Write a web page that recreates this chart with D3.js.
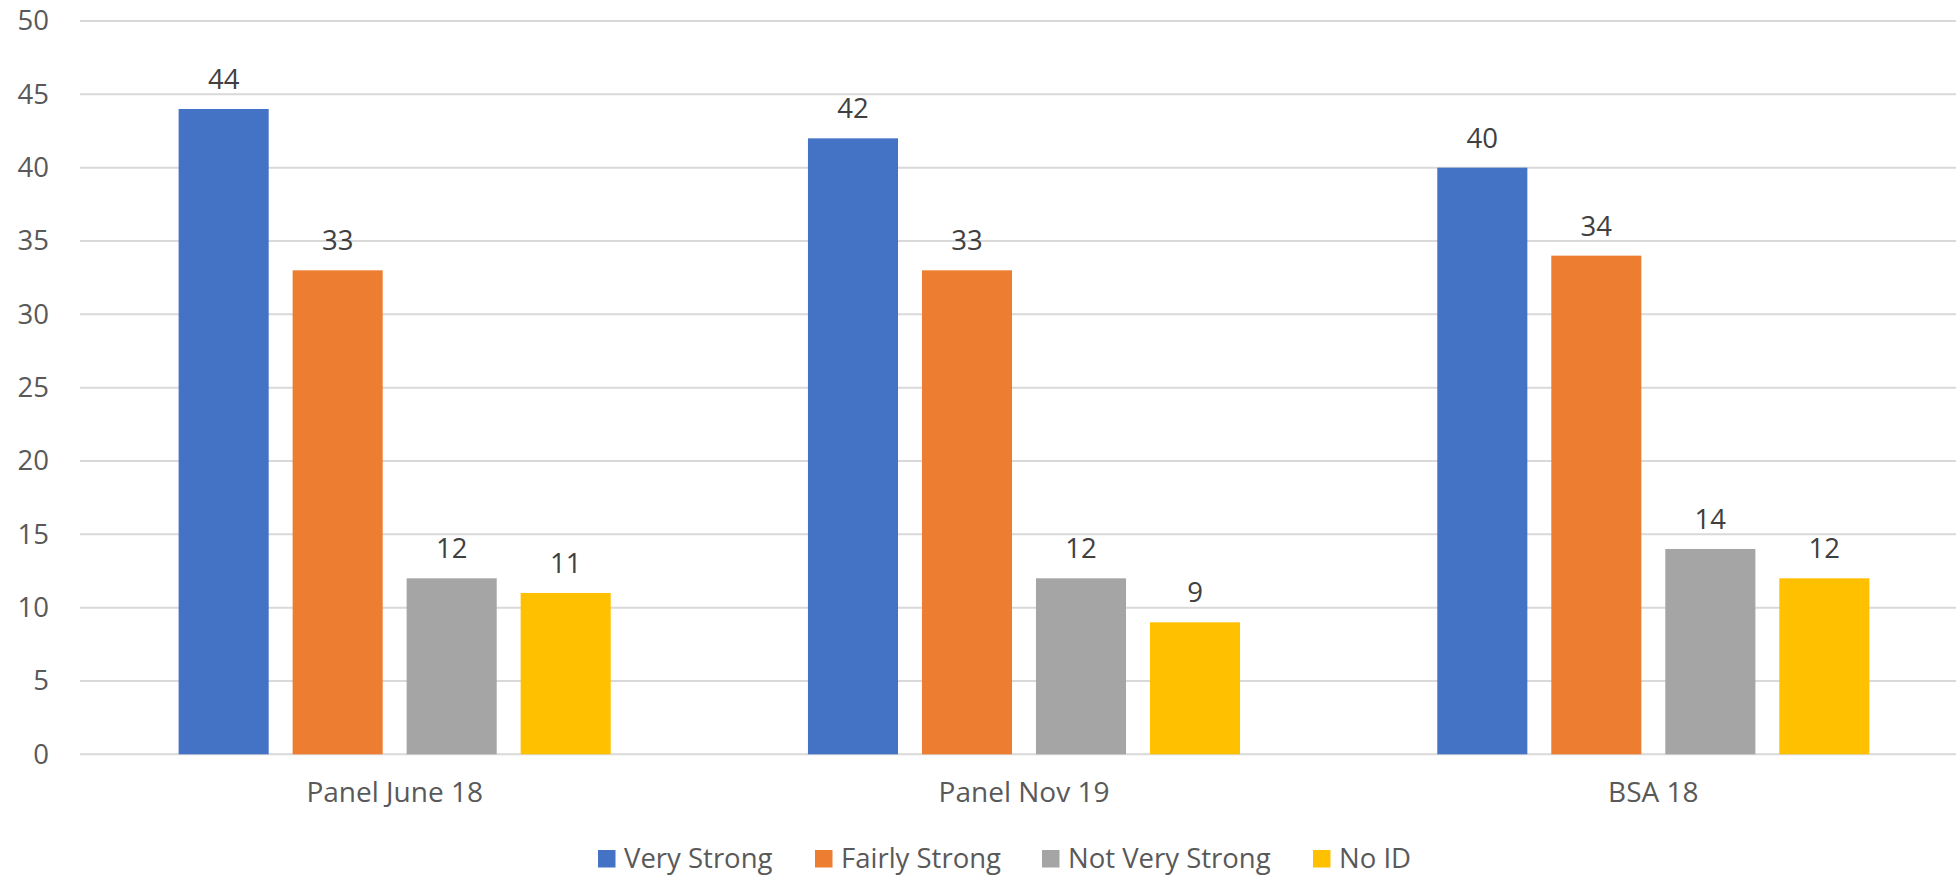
<!DOCTYPE html>
<html lang="en">
<head>
<meta charset="UTF-8">
<title>Party identification strength</title>
<style>
    body {
        margin: 0;
        padding: 0;
        background-color: #fff;
        font-family: "Open Sans", sans-serif;
    }
    #chart text {
        font-family: "Open Sans", sans-serif;
    }
</style>
</head>
<body>
<svg id="chart" width="1956" height="875"></svg>

<script src="https://d3js.org/d3.v7.min.js"></script>
<script>
    // data
    var categories = ["Panel June 18", "Panel Nov 19", "BSA 18"];
    var seriesNames = ["Very Strong", "Fairly Strong", "Not Very Strong", "No ID"];
    var veryStrong = [44, 42, 40];
    var fairlyStrong = [33, 33, 34];
    var notVeryStrong = [12, 12, 14];
    var noId = [11, 9, 12];
    var yTicks = [0, 5, 10, 15, 20, 25, 30, 35, 40, 45, 50];
    var colors = ["#4472C4", "#ED7D31", "#A5A5A5", "#FFC000"];

    var seriesValues = [veryStrong, fairlyStrong, notVeryStrong, noId];

    const svg = d3.select("#chart");

    // 比例尺
    const x0 = d3.scaleBand()
        .domain(categories)
        .range([80, 1968]);

    const x1 = d3.scaleBand()
        .domain(seriesNames)
        .range([0, x0.bandwidth()])
        .paddingInner(0.21)
        .paddingOuter(0.865);

    const y = d3.scaleLinear()
        .domain([0, 50])
        .range([754.3, 21]);

    // grid lines
    svg.append("g")
        .selectAll("line")
        .data(yTicks)
        .join("line")
        .attr("x1", 80)
        .attr("x2", 1956)
        .attr("y1", d => y(d))
        .attr("y2", d => y(d))
        .attr("stroke", "#D9D9D9")
        .attr("stroke-width", 2);

    // y tick labels
    const yAxis = d3.axisLeft(y).tickValues(yTicks).tickSize(0).tickPadding(0);
    svg.append("g")
        .attr("transform", "translate(49, 0)")
        .call(yAxis)
        .call(g => g.select(".domain").remove())
        .selectAll("text")
        .attr("font-size", 27.5)
        .attr("fill", "#595959");

    // bars
    const groups = svg.append("g")
        .selectAll("g")
        .data(categories)
        .join("g")
        .attr("transform", d => "translate(" + x0(d) + ",0)");

    groups.selectAll("rect")
        .data((d, i) => seriesNames.map((s, j) => ({ s: s, v: seriesValues[j][i], c: colors[j] })))
        .join("rect")
        .attr("x", d => x1(d.s))
        .attr("y", d => y(d.v))
        .attr("width", x1.bandwidth())
        .attr("height", d => y(0) - y(d.v))
        .attr("fill", d => d.c);

    // data labels
    groups.selectAll("text")
        .data((d, i) => seriesNames.map((s, j) => ({ s: s, v: seriesValues[j][i] })))
        .join("text")
        .attr("x", d => x1(d.s) + x1.bandwidth() / 2)
        .attr("y", d => y(d.v) - 20)
        .attr("text-anchor", "middle")
        .attr("font-size", 27.5)
        .attr("fill", "#404040")
        .text(d => d.v);

    // x axis labels
    const xAxis = d3.axisBottom(x0).tickSize(0).tickPadding(0);
    svg.append("g")
        .attr("transform", "translate(0, 782)")
        .call(xAxis)
        .call(g => g.select(".domain").remove())
        .selectAll("text")
        .attr("font-size", 28)
        .attr("fill", "#595959");

    // 图例
    const legendX = [598, 815, 1042, 1313];
    const legend = svg.append("g")
        .selectAll("g")
        .data(seriesNames)
        .join("g")
        .attr("transform", (d, i) => "translate(" + legendX[i] + ",850)");

    legend.append("rect")
        .attr("width", 17.5)
        .attr("height", 17.5)
        .attr("fill", (d, i) => colors[i]);

    legend.append("text")
        .attr("x", 26)
        .attr("y", 18)
        .attr("font-size", 27.5)
        .attr("fill", "#595959")
        .text(d => d);
</script>
</body>
</html>
